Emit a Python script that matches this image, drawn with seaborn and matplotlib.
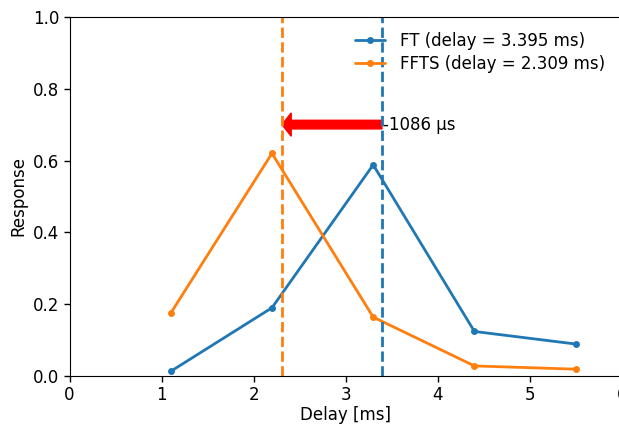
import matplotlib
matplotlib.use("Agg")
import matplotlib.pyplot as plt
import seaborn as sns

delays = [1.1, 2.2, 3.3, 4.4, 5.5]
ft_resp = [0.013, 0.190, 0.588, 0.124, 0.089]
ffts_resp = [0.175, 0.620, 0.164, 0.028, 0.019]
ft_delay = 3.395
ffts_delay = 2.309
shift_label = "-1086 µs"

sns.set_style("ticks")
plt.rcParams['font.family'] = ['DejaVu Sans']
for k in ["text.color", "axes.labelcolor", "xtick.color", "ytick.color", "axes.edgecolor"]:
    plt.rcParams[k] = "black"

fig = plt.figure(figsize=(6.19, 4.26), dpi=100)
ax = fig.add_axes([0.1123, 0.1174, 0.892, 0.843])

blue = "#1f77b4"
orange = "#ff7f0e"

sns.lineplot(x=delays, y=ft_resp, ax=ax, color=blue, marker="o", markersize=5,
             markeredgewidth=0, linewidth=2, label=f"FT (delay = {ft_delay} ms)")
sns.lineplot(x=delays, y=ffts_resp, ax=ax, color=orange, marker="o", markersize=5,
             markeredgewidth=0, linewidth=2, label=f"FFTS (delay = {ffts_delay} ms)")
ax.axvline(ft_delay, color=blue, linestyle="--", linewidth=2)
ax.axvline(ffts_delay, color=orange, linestyle="--", linewidth=2)

ax.arrow(ft_delay, 0.7, ffts_delay - ft_delay, 0, width=0.024, head_width=0.065,
         head_length=0.1, length_includes_head=True, color="red")
ax.text(ft_delay + 0.01, 0.7, shift_label, va="center", ha="left", fontsize=12)

ax.set_xlim(0, 6)
ax.set_ylim(0, 1)
ax.set_xlabel("Delay [ms]", fontsize=12, labelpad=1.5)
ax.set_ylabel("Response", fontsize=12)
ax.tick_params(labelsize=12, width=1, length=4)
ax.legend(loc="upper right", frameon=False, fontsize=12,
          bbox_to_anchor=(612 / 619, 1 - 25 / 426), bbox_transform=fig.transFigure,
          borderaxespad=0, handletextpad=0.9, handlelength=1.8, labelspacing=0.3)

fig.savefig("out.png", dpi=100)
